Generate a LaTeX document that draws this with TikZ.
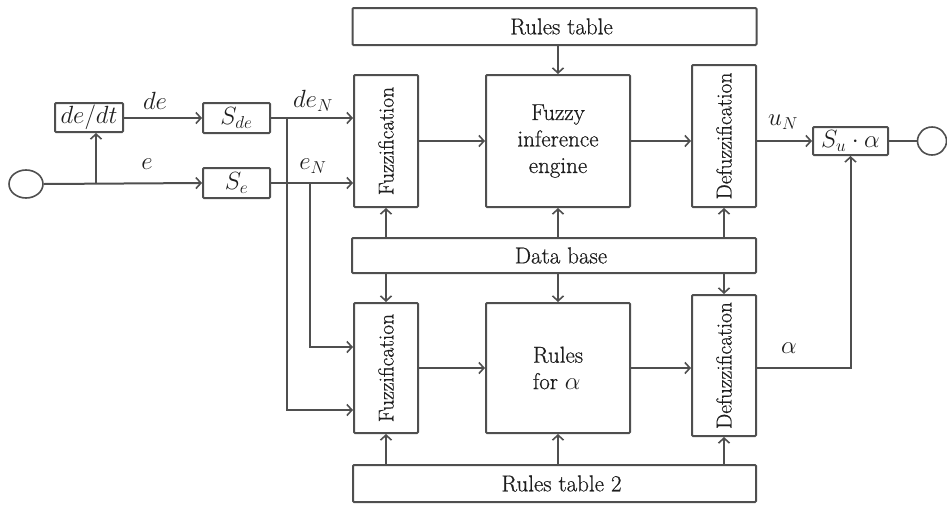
\documentclass[tikz,border=0pt]{standalone}
\usepackage{fontspec}
\setmainfont{Latin Modern Roman}[FakeBold=0.6]
\usetikzlibrary{arrows.meta,shapes.geometric}
\definecolor{linegray}{HTML}{4F4F4F}
\definecolor{textgray}{HTML}{1E1E1E}
\begin{document}
\begin{tikzpicture}[x=1pt,y=-1pt,
  every node/.style={text=textgray},
  box/.style={draw=linegray,line width=2pt,rounded corners=1pt,inner sep=0pt,
    font=\fontsize{23}{26.5}\selectfont},
  vbox/.style={box,font=\fontsize{21.5}{25}\selectfont},
  mbox/.style={box,font=\fontsize{25}{28}\selectfont},
  lbl/.style={font=\fontsize{25}{28}\selectfont,inner sep=0pt},
  wire/.style={draw=linegray,line width=2pt},
  arr/.style={wire,-{Straight Barb[length=5pt,width=11pt,line width=1.6pt]}},
  port/.style={draw=linegray,line width=1.6pt,ellipse,inner sep=0pt}]
\useasboundingbox (0,0) rectangle (947,504);

% wide boxes
\node[box,minimum width=404,minimum height=37] (rt)  at (554.5,26.5) {\hspace*{14pt}Rules table};
\node[box,minimum width=404,minimum height=35] (db)  at (554,255.5) {\hspace*{14pt}Data base};
\node[box,minimum width=403,minimum height=37] (rt2) at (554.5,483.5) {\hspace*{14pt}Rules table 2};

% upper processing chain
\node[vbox,minimum width=64,minimum height=132] (fz1) at (386,141) {\rotatebox{90}{Fuzzification}};
\node[box,minimum width=144,minimum height=132,align=center] (fie) at (558,141) {Fuzzy\\inference\\engine};
\node[vbox,minimum width=64,minimum height=142] (dz1) at (724,136) {\rotatebox{90}{Defuzzification}};

% lower processing chain
\node[vbox,minimum width=64,minimum height=130] (fz2) at (386,368) {\rotatebox{90}{Fuzzification}};
\node[box,minimum width=144,minimum height=130,align=left] (ra) at (558,368) {Rules\\for $\alpha$};
\node[vbox,minimum width=64,minimum height=141] (dz2) at (724,365.5) {\rotatebox{90}{Defuzzification}};

% input stage
\node[port,minimum width=34,minimum height=28] (in) at (26,184) {};
\node[mbox,minimum width=68,minimum height=29] (dedt) at (89,117.5) {$de/dt$};
\node[mbox,minimum width=67,minimum height=30] (sde) at (236.5,118) {$S_{de}$};
\node[mbox,minimum width=67,minimum height=30] (se) at (236.5,183) {$S_{e}$};

% output stage
\node[mbox,minimum width=75,minimum height=28] (su) at (850.5,141) {$S_u\cdot\alpha$};
\node[port,minimum width=29,minimum height=28] (out) at (932,141) {};

% branch points
\coordinate (br) at (96,184);
\coordinate (bde) at (287,118);
\coordinate (be) at (310,183);

% signal labels
\node[lbl] (lde) at (155,101) {$de$};
\node[lbl] (le) at (147,164) {$e$};
\node[lbl] (ldeN) at (313,101) {$de_N$};
\node[lbl] (leN) at (313,166) {$e_N$};
\node[lbl] (luN) at (783,122) {$u_N$};
\node[lbl] (lal) at (789,348) {$\alpha$};

% input wiring
\draw[arr] (in.east) -- (se.west);
\draw[arr] (br) -- (br |- dedt.south);
\draw[arr] (dedt.east |- sde.west) -- (sde.west);
\draw[arr] (sde.east) -- (fz1.west |- sde.east);
\draw[arr] (se.east) -- (fz1.west |- se.east);
\draw[arr] (bde) -- (bde |- 0,410) -- (fz2.west |- 0,410);
\draw[arr] (be) -- (be |- 0,347) -- (fz2.west |- 0,347);

% upper chain
\draw[arr] (fz1.east) -- (fie.west);
\draw[arr] (fie.east) -- (fie.east -| dz1.west);
\draw[arr] (dz1.east |- su.west) -- (su.west);
\draw[wire] (su.east) -- (out.west);
\draw[arr] (fie.north |- rt.south) -- (fie.north);

% data base links
\draw[arr] (fz1.south |- db.north) -- (fz1.south);
\draw[arr] (fie.south |- db.north) -- (fie.south);
\draw[arr] (dz1.south |- db.north) -- (dz1.south);
\draw[arr] (fz2.north |- db.south) -- (fz2.north);
\draw[arr] (ra.north |- db.south) -- (ra.north);
\draw[arr] (dz2.north |- db.south) -- (dz2.north);

% lower chain
\draw[arr] (fz2.east) -- (ra.west);
\draw[arr] (ra.east) -- (ra.east -| dz2.west);
\draw[arr] (dz2.east |- ra.east) -| (su.south);

% rules table 2 links
\draw[arr] (fz2.south |- rt2.north) -- (fz2.south);
\draw[arr] (ra.south |- rt2.north) -- (ra.south);
\draw[arr] (dz2.south |- rt2.north) -- (dz2.south);
\end{tikzpicture}
\end{document}
